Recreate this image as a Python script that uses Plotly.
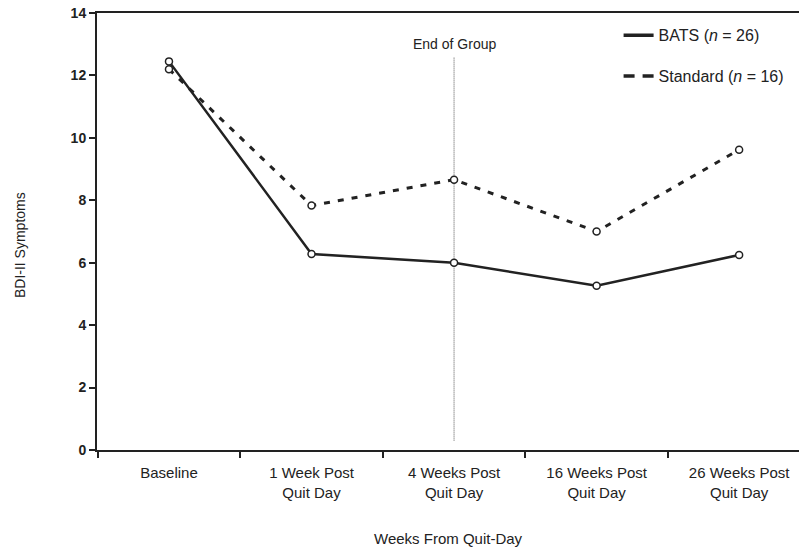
import plotly.graph_objects as go

categories = ["Baseline", "1 Week Post<br>Quit Day", "4 Weeks Post<br>Quit Day",
              "16 Weeks Post<br>Quit Day", "26 Weeks Post<br>Quit Day"]
bats = [12.45, 6.28, 6.0, 5.26, 6.25]
standard = [12.2, 7.83, 8.66, 7.0, 9.62]
y_ticks = [0, 2, 4, 6, 8, 10, 12, 14]
end_of_group_cat = categories[2]
end_line_y = [0.3, 12.6]

FONT = "Liberation Sans, Arial, sans-serif"

fig = go.Figure()

fig.add_trace(go.Scatter(x=[end_of_group_cat, end_of_group_cat], y=end_line_y, mode="lines",
                         line=dict(color="#555", width=1, dash="1px,1px"), showlegend=False,
                         hoverinfo="skip"))
fig.add_trace(go.Scatter(x=categories, y=standard, mode="lines", line=dict(color="#222", width=3, dash="6px,8px"),
                         showlegend=False))
fig.add_trace(go.Scatter(x=categories, y=bats, mode="lines", line=dict(color="#222", width=2.5),
                         showlegend=False))
fig.add_trace(go.Scatter(x=categories, y=standard, mode="markers",
                         marker=dict(symbol="circle", size=7, color="white", line=dict(width=1.5, color="#222")),
                         showlegend=False))
fig.add_trace(go.Scatter(x=categories, y=bats, mode="markers",
                         marker=dict(symbol="circle", size=7, color="white", line=dict(width=1.5, color="#222")),
                         showlegend=False))

# legend entries
fig.add_trace(go.Scatter(x=[None], y=[None], mode="lines", line=dict(color="#222", width=3.5),
                         name="BATS (<i>n</i> = 26)", legendgroup="a"))
fig.add_trace(go.Scatter(x=[None], y=[None], mode="lines", line=dict(color="#222", width=3.5, dash="11px,8px"),
                         name="Standard (<i>n</i> = 16)", legendgroup="b"))

fig.add_annotation(x=end_of_group_cat, y=12.6, yshift=3, text="End of Group", showarrow=False,
                   yanchor="bottom", font=dict(size=14, color="#222", family=FONT))

# axis titles
fig.add_annotation(x=0.5, y=0, xref="paper", yref="paper", yshift=-88, text="Weeks From Quit-Day",
                   showarrow=False, yanchor="middle", xanchor="center",
                   font=dict(size=15, color="#222", family=FONT))
fig.add_annotation(x=0, y=0.469, xref="paper", yref="paper", xshift=-77, text="BDI-II Symptoms",
                   showarrow=False, textangle=-90, yanchor="middle", xanchor="center",
                   font=dict(size=14, color="#222", family=FONT))

fig.update_layout(
    width=799, height=550,
    margin=dict(l=97, r=0, t=13, b=100, autoexpand=False),
    plot_bgcolor="white", paper_bgcolor="white",
    font=dict(family=FONT, color="#222", size=14),
    showlegend=True,
    legend=dict(x=0.743, y=0.988, xanchor="left", yanchor="top", bgcolor="rgba(0,0,0,0)",
                tracegroupgap=17, itemwidth=30, font=dict(size=16, family=FONT)),
    xaxis=dict(type="category", categoryorder="array", categoryarray=categories,
               range=[-0.505, 4.42], showline=True, linecolor="#222", linewidth=2, mirror=True,
               ticks="outside", tickson="boundaries", ticklen=6, tickwidth=1.5, tickcolor="#222",
               showgrid=False, zeroline=False, tickfont=dict(size=15, family=FONT),
               ticklabelstandoff=8, automargin=False, ticklabeloverflow="allow"),
    yaxis=dict(range=[0, 14], tickvals=y_ticks, ticktext=[f"<b>{v}</b>" for v in y_ticks],
               showline=True, linecolor="#222", linewidth=2, ticks="outside", ticklen=6,
               tickwidth=1.5, tickcolor="#222", showgrid=False, zeroline=False,
               tickfont=dict(size=14, family=FONT), automargin=False, ticklabeloverflow="allow"),
)

fig.write_html("out.html", config={"displayModeBar": False},
               post_script="document.body.style.margin='0';document.body.style.overflow='hidden';")
